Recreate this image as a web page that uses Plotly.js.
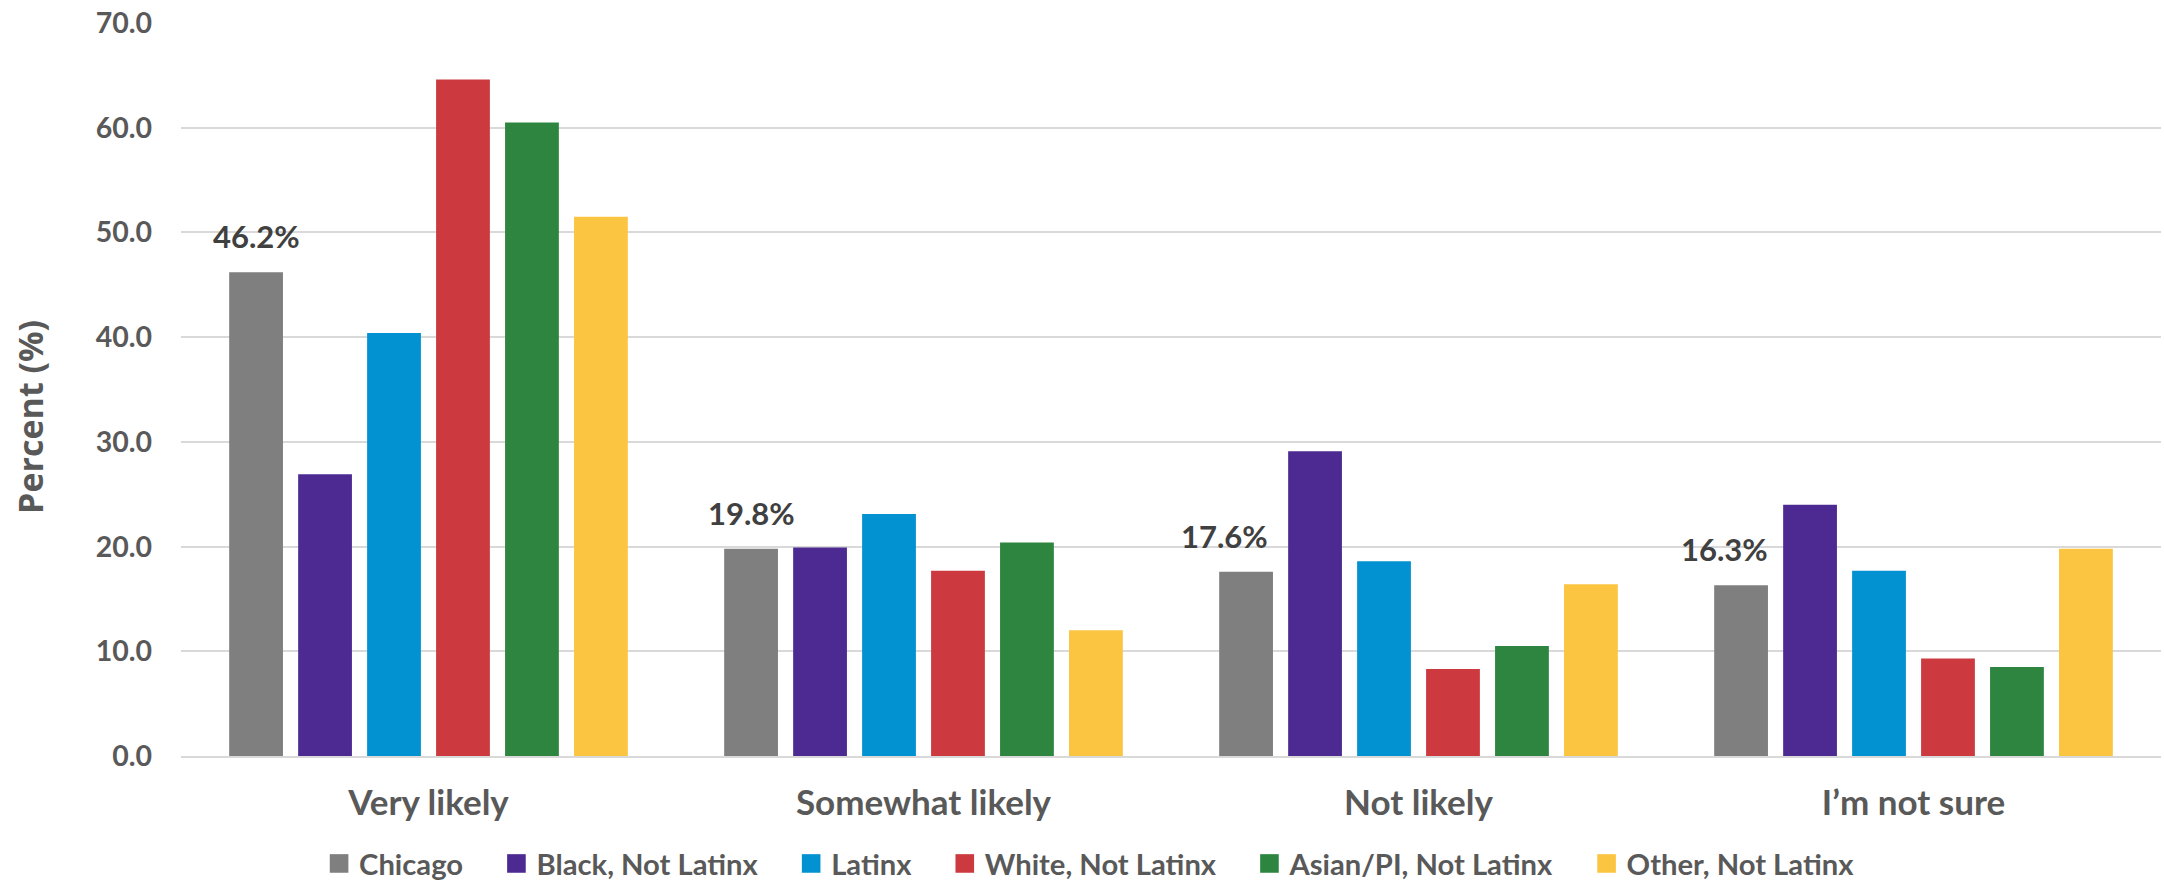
<!DOCTYPE html>
<html><head><meta charset="utf-8">
<script src="https://cdn.plot.ly/plotly-3.0.1.min.js"></script>
<style>html,body{margin:0;padding:0;background:#fff;}#chart{width:2164px;height:882px;}</style>
</head><body><div id="chart"></div>
<script>
const categories = ["Very likely", "Somewhat likely", "Not likely", "I\u2019m not sure"];
const seriesNames = ["Chicago", "Black, Not Latinx", "Latinx", "White, Not Latinx", "Asian/PI, Not Latinx", "Other, Not Latinx"];
const chicago = [46.2, 19.8, 17.6, 16.3];
const blackNotLatinx = [26.9, 19.9, 29.1, 24.0];
const latinx = [40.4, 23.1, 18.6, 17.7];
const whiteNotLatinx = [64.6, 17.7, 8.3, 9.3];
const asianNotLatinx = [60.5, 20.4, 10.5, 8.5];
const otherNotLatinx = [51.5, 12.0, 16.4, 19.8];
const tickValues = [0, 10, 20, 30, 40, 50, 60, 70];
const tickLabels = ["0.0", "10.0", "20.0", "30.0", "40.0", "50.0", "60.0", "70.0"];
const chicagoLabels = ["46.2%", "19.8%", "17.6%", "16.3%"];

const colors = ["#7f7f7f", "#4c2a91", "#0292d1", "#cc3a40", "#2e8540", "#fbc541"];
const seriesValues = [chicago, blackNotLatinx, latinx, whiteNotLatinx, asianNotLatinx, otherNotLatinx];

const FONT = "Lato, 'Open Sans', sans-serif";
const bargap = 0.164, bargroupgap = 0.22;
const legendPad = "\u00a0\u00a0\u00a0\u00a0";
const labelXShift = [0, 0, -22, -17];

const traces = seriesValues.map((vals, i) => ({
  type: "bar",
  name: seriesNames[i] + (i < seriesNames.length - 1 ? legendPad : ""),
  x: categories,
  y: vals,
  marker: {color: colors[i], line: {width: 0}},
  hoverinfo: "skip"
}));

// label offset for first bar in group (category units)
const nSeries = seriesValues.length;
const slot = (1 - bargap) / nSeries;
const firstOffset = -(1 - bargap) / 2 + slot / 2;

const annotations = chicago.map((v, i) => ({
  x: i + firstOffset, y: v, xref: "x", yref: "y",
  text: chicagoLabels[i], showarrow: false,
  yanchor: "bottom", xanchor: "center", yshift: 15, xshift: labelXShift[i],
  font: {family: FONT, size: 31, color: "#404040", weight: "bold"}
}));
annotations.push({
  xref: "paper", yref: "paper", x: -0.0763, y: 0.4625,
  xanchor: "center", yanchor: "middle",
  text: "Percent (%)", textangle: -90, showarrow: false,
  font: {family: "'Open Sans', sans-serif", size: 34, color: "#595959", weight: "bold"}
});

const layout = {
  width: 2164, height: 882,
  margin: {l: 181, r: 3, t: 23, b: 126, autoexpand: false},
  paper_bgcolor: "#ffffff", plot_bgcolor: "#ffffff",
  barmode: "group", bargap: bargap, bargroupgap: bargroupgap,
  showlegend: true,
  legend: {
    orientation: "h", xref: "container", yref: "container",
    x: 0.5035, xanchor: "center", y: 0.021, yanchor: "middle",
    font: {family: FONT, size: 29.2, color: "#595959", weight: "bold"},
    traceorder: "normal"
  },
  xaxis: {
    type: "category",
    showgrid: false, showline: true, linecolor: "#d9d9d9", linewidth: 2,
    ticks: "", ticklabelstandoff: 15,
    tickfont: {family: FONT, size: 35, color: "#595959", weight: "bold"},
    fixedrange: true
  },
  yaxis: {
    range: [0, 70], tickvals: tickValues, ticktext: tickLabels,
    showgrid: true, gridcolor: "#d9d9d9", gridwidth: 2,
    zeroline: false, showline: false, ticks: "", ticklabelstandoff: 28,
    tickfont: {family: FONT, size: 28.5, color: "#595959", weight: "bold"},
    fixedrange: true
  },
  annotations: annotations
};

Plotly.newPlot("chart", traces, layout, {displayModeBar: false, staticPlot: true}).then(gd => {
  gd.querySelectorAll(".legend .legendpoints path").forEach(p => {
    const t = p.getAttribute("transform") || "";
    p.setAttribute("transform", t + " scale(1.55)");
  });
});
</script>
</body></html>
